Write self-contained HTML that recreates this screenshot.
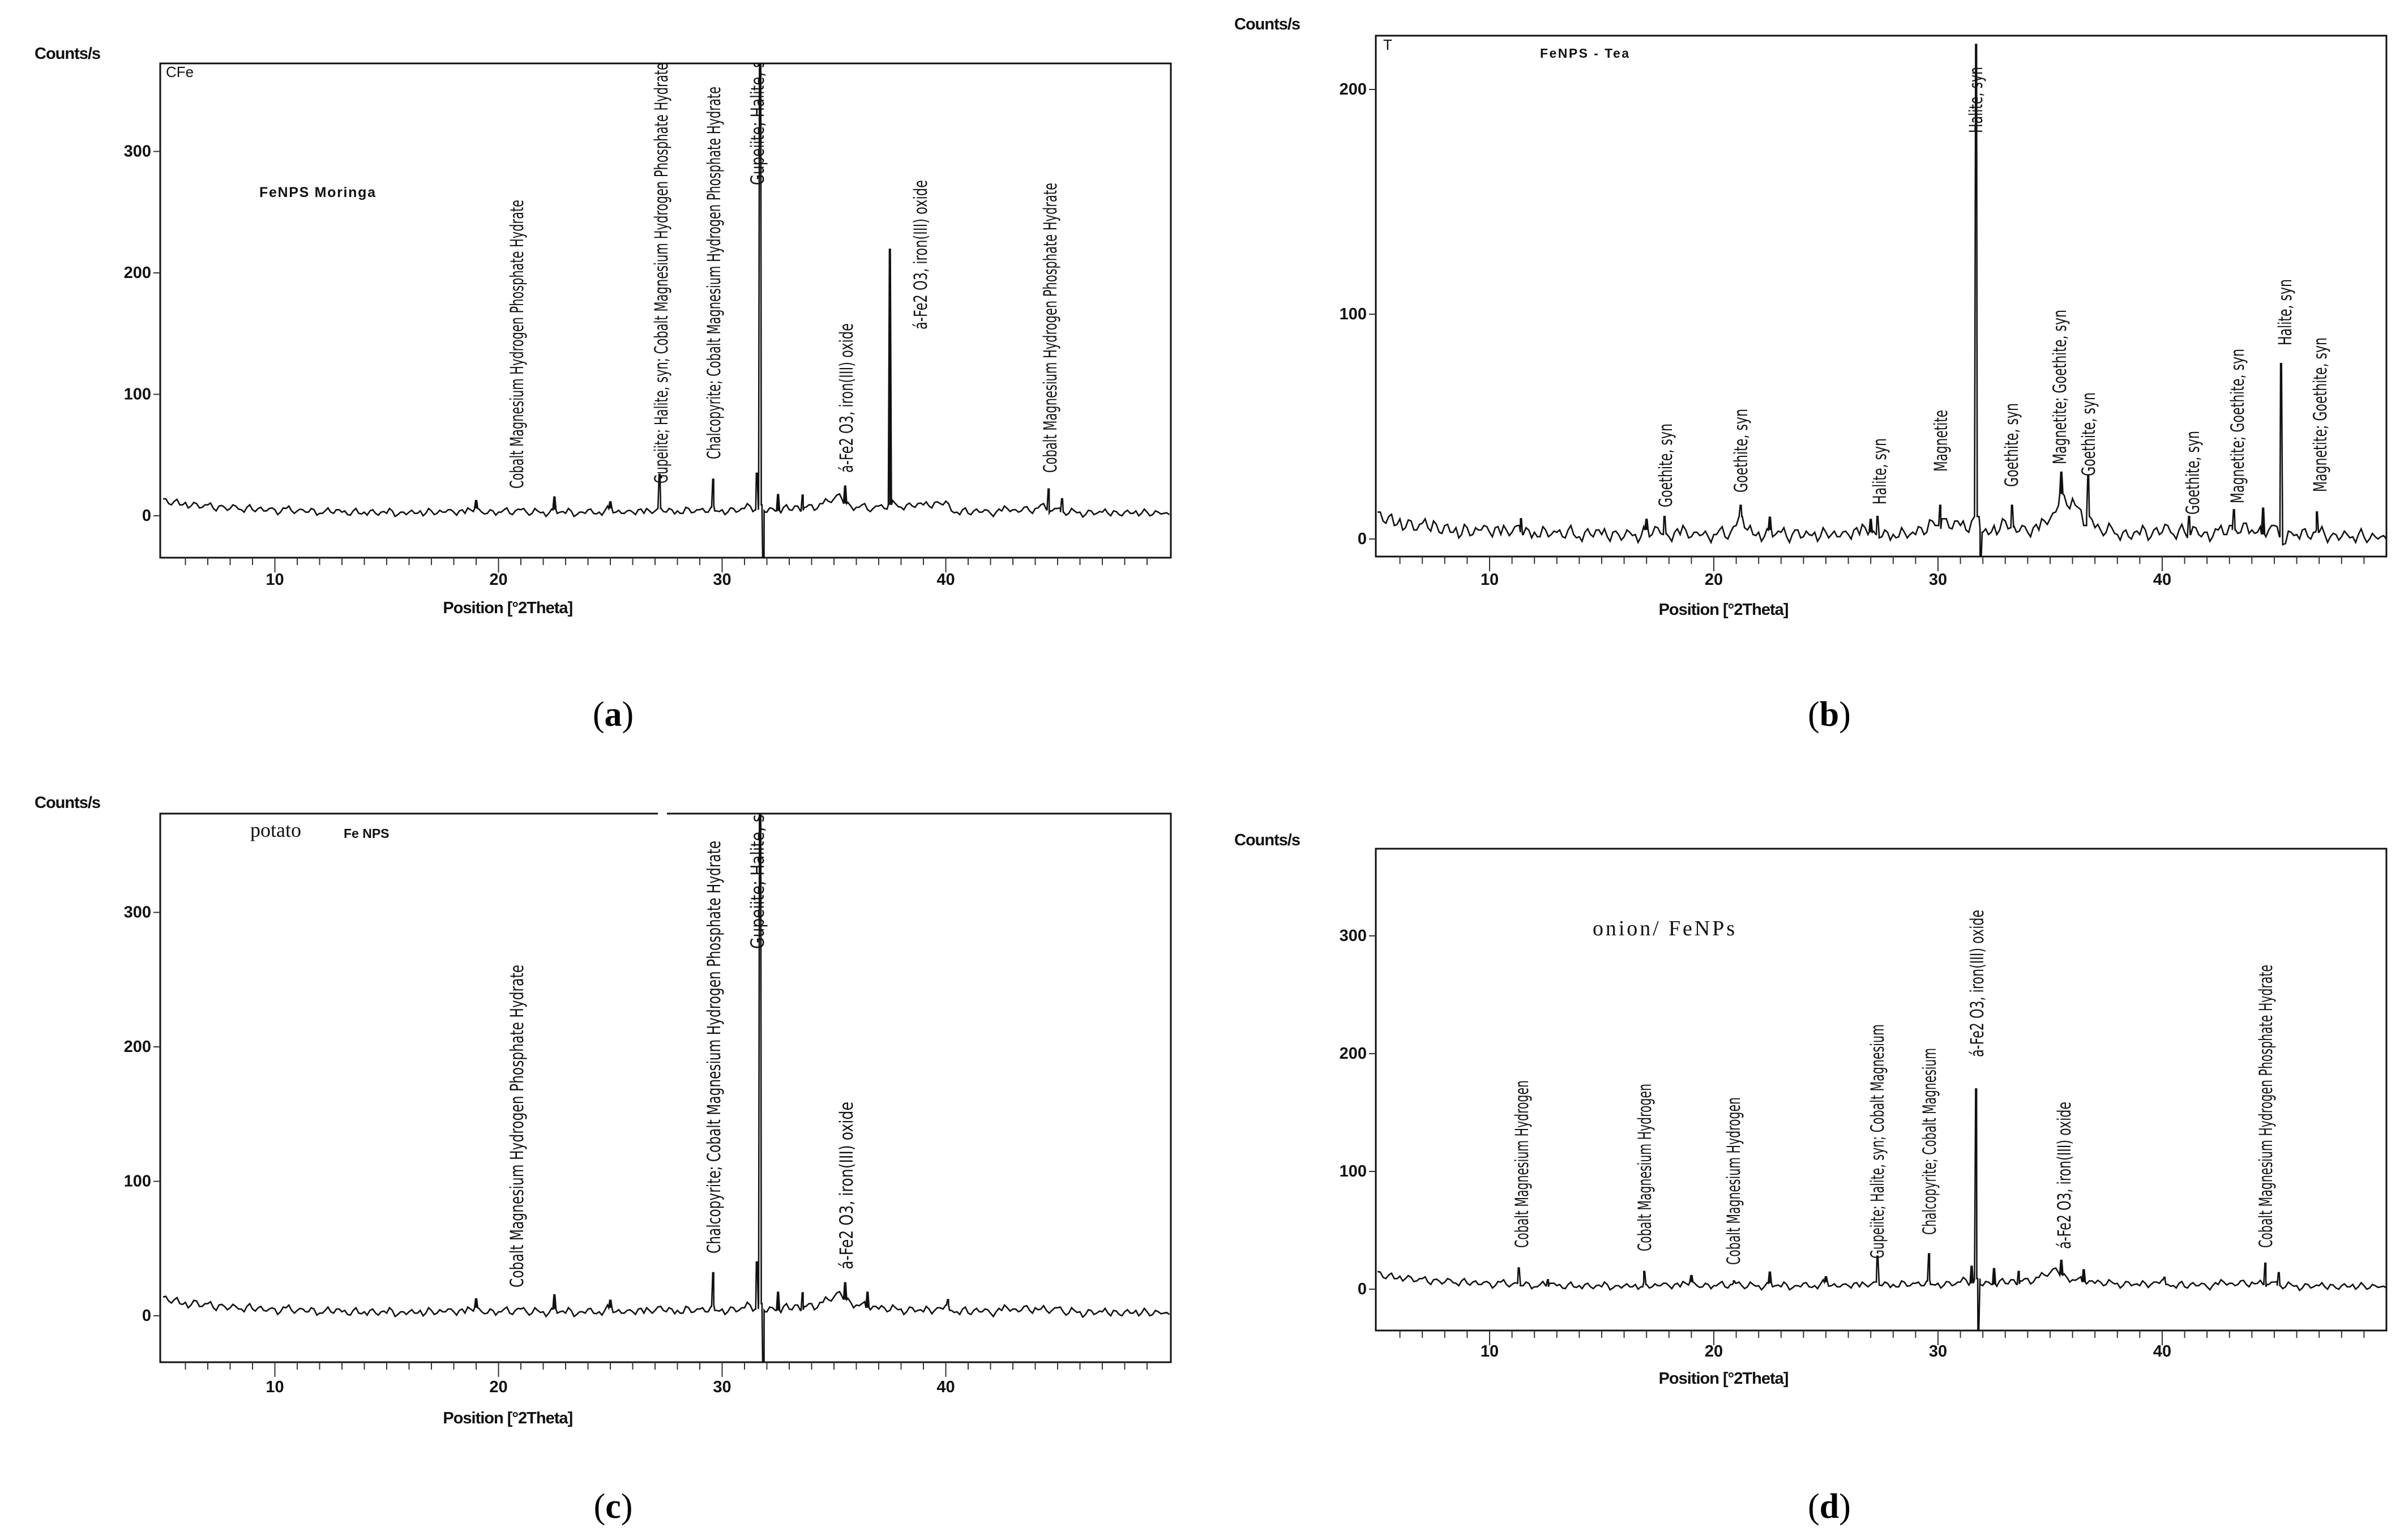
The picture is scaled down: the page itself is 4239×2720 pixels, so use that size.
<!DOCTYPE html>
<html><head><meta charset="utf-8"><style>
html,body{margin:0;padding:0;background:#fff;}
svg{display:block;}
.tk{font-family:"Liberation Sans",Arial,sans-serif;font-weight:bold;font-size:29px;fill:#111;}
.ann{font-family:"DejaVu Sans","Liberation Sans",sans-serif;font-size:32px;fill:#111;}
.cap{font-family:"Liberation Serif",serif;font-size:62px;fill:#000;}
</style></head><body>
<svg id="fig" width="4239" height="2720" viewBox="0 0 4239 2720" xmlns="http://www.w3.org/2000/svg">
<defs>
<clipPath id="clipA"><rect x="283" y="112" width="1785" height="873"/></clipPath>
<clipPath id="clipB"><rect x="2430" y="63" width="1785" height="920"/></clipPath>
<clipPath id="clipC"><rect x="283" y="1437" width="1785" height="969"/></clipPath>
<clipPath id="clipD"><rect x="2430" y="1499" width="1785" height="851"/></clipPath>
</defs>
</svg>
<script>
// ---- shared x ticks
const xMajorTicks = [10, 20, 30, 40];
const xStart = 5, xStep = 0.25;
// jitter offsets (counts) inserted halfway between baseline samples, read as texture
const jitter = [2,-2,3,-1,-3,2,-2,1,3,-3,1,-2,2,-1,-3,3,-2,2,-1,1,-3,2,3,-2,1,-1,2,-3,-1,3,-2,1];
// ---- panel A (Moringa)
const countsA = [14,10,12,9, 11,8,10,7, 9,6,8,7, 6,8,5,7, 5,6,4,6, 5,3,6,4, 4,5,3,5, 2,4,3,5, 3,1,4,2, 3,4,2,3, 2,4,1,3, 3,2,4,2, 4,2,3,5, 3,4,2,5, 6,3,2,4, 3,5,2,4, 5,3,2,4, 3,2,5,3, 2,4,1,3, 5,2,3,4, 6,3,2,4, 3,5,2,4, 4,6,3,5, 4,2,6,3, 5,3,7,4, 5,3,6,4, 6,8,5,9, 3,6,4,7, 5,8,4,7, 9,6,10,12, 14,18,10,8, 7,9,5,6, 8,6,9,10, 7,9,8,10, 9,8,11,10, 12,4,3,5, 2,4,3,5, 2,3,4,6, 5,3,7,4, 6,9,5,4, 6,3,2,4, 3,1,4,2, 3,2,4,1, 3,2,4,2, 3,1,3,2, 1];
const peakPosA = [19.0, 22.5, 25.0, 27.2, 29.6, 31.55, 31.7, 31.85, 32.5, 33.6, 35.5, 37.5, 44.6, 45.2];
const peakValA = [13, 16, 12, 34, 30, 35, 500, -60, 18, 17, 25, 220, 22, 14];
const yTicksA = [0, 100, 200, 300];
// ---- panel B (Tea)
const countsB = [12,8,10,6, 9,5,8,4, 7,5,8,3, 6,3,5,2, 5,2,4,6, 3,5,2,4, 3,6,2,4, 3,1,4,2, 3,1,4,2, 1,3,2,4, 2,1,3,2, 1,3,2,1, 4,2,5,2, 1,3,2,4, 1,3,2,1, 2,4,1,3, 6,10,4,2, 3,1,4,2, 3,1,2,4, 1,2,3,1, 3,2,1,3, 2,4,2,5, 3,2,1,3, 2,1,3,2, 2,5,3,8, 6,9,5,8, 6,4,8,10, 3,2,6,4, 8,5,3,6, 3,5,4,8, 9,12,20,15, 18,14,6,10, 5,4,3,5, 2,3,1,3, 2,4,1,5, 3,6,2,4, 3,2,5,1, 3,1,4,2, 6,4,3,7, 4,3,2,4, 6,1,-2,3, 2,4,1,3, 3,2,1,2, 1,2,1,2, 1,0,1,1, 0];
const peakPosB = [11.4, 17.0, 17.8, 21.2, 22.5, 27.0, 27.3, 30.1, 31.7, 31.9, 33.3, 35.5, 36.7, 41.2, 43.2, 44.5, 45.3, 46.9];
const peakValB = [9, 9, 10, 15, 10, 9, 10, 15, 220, -10, 15, 30, 28, 10, 13, 14, 78, 12];
const yTicksB = [0, 100, 200];
// ---- panel C (Potato)
const countsC = [14,11,12,9, 10,8,11,7, 9,6,8,7, 6,7,5,7, 5,6,4,5, 5,3,6,4, 4,5,3,5, 2,4,3,5, 3,1,4,2, 3,4,2,3, 2,4,1,3, 3,2,4,2, 4,2,3,5, 3,4,2,5, 6,3,2,4, 3,5,2,4, 5,3,2,4, 3,2,5,3, 2,4,1,3, 5,2,3,4, 6,3,2,4, 3,5,2,4, 4,7,3,5, 4,2,6,3, 5,3,7,4, 5,3,6,4, 6,8,5,9, 3,6,4,7, 5,8,4,7, 9,6,10,12, 14,18,12,10, 8,9,6,7, 5,6,4,6, 5,3,6,4, 3,5,4,6, 8,4,3,5, 2,4,3,5, 2,3,4,6, 5,3,7,4, 6,5,4,4, 6,3,2,4, 3,1,4,2, 3,2,4,1, 3,2,4,2, 3,1,3,2, 1];
const peakPosC = [19.0, 22.5, 25.0, 29.6, 31.55, 31.7, 31.85, 32.5, 33.6, 35.5, 36.5, 40.1];
const peakValC = [13, 16, 12, 32, 40, 500, -60, 18, 17, 25, 18, 12];
const yTicksC = [0, 100, 200, 300];
// ---- panel D (Onion)
const countsD = [15,10,12,9, 11,9,10,7, 9,6,8,7, 6,8,5,7, 5,6,4,6, 5,3,6,4, 4,5,3,5, 2,4,3,5, 3,1,4,2, 3,4,2,3, 2,4,1,3, 3,2,4,2, 4,2,3,5, 3,4,2,5, 6,3,2,4, 3,5,2,4, 5,3,2,4, 3,2,5,3, 2,4,1,3, 5,2,3,4, 6,3,2,4, 3,5,2,4, 4,6,3,5, 4,2,6,3, 5,3,7,4, 5,3,6,4, 6,8,5,9, 3,6,4,7, 5,8,4,7, 9,6,10,12, 14,18,12,10, 8,9,6,7, 5,6,4,6, 5,3,6,4, 3,5,4,6, 8,4,3,5, 2,4,3,5, 2,3,4,6, 5,3,7,4, 6,5,4,4, 6,3,2,4, 3,1,4,2, 3,2,4,1, 3,2,4,2, 3,1,3,2, 1];
const peakPosD = [11.3, 12.6, 16.9, 19.0, 20.9, 22.5, 25.0, 27.3, 29.6, 31.5, 31.7, 31.8, 32.5, 33.6, 35.5, 36.5, 40.1, 44.6, 45.2];
const peakValD = [18, 8, 15, 12, 7, 15, 11, 28, 30, 20, 170, -35, 18, 15, 25, 17, 10, 22, 14];
const yTicksD = [0, 100, 200, 300];

const NS = "http://www.w3.org/2000/svg";
const svg = document.getElementById("fig");
function mk(tag, attrs, parent) {
  const e = document.createElementNS(NS, tag);
  for (const k in attrs) e.setAttribute(k, attrs[k]);
  (parent || svg).appendChild(e);
  return e;
}

function drawPanel(p) {
  const g = mk("g", {});
  
  
  const xs = v => p.x0 + (v - 5) * p.pxPerDeg;
  const ys = v => p.zeroY - v * p.pxPerCount;
  const frame = mk("rect", {x: p.L, y: p.T, width: p.R - p.L, height: p.B - p.T, fill: "none", stroke: "#111", "stroke-width": 3}, g);
  
  
  for (let d = 6; d <= 49; d++) {
    const major = xMajorTicks.indexOf(d) >= 0;
    const t = mk("line", {x1: xs(d), x2: xs(d), y1: p.B, y2: p.B + (major ? 26 : 13), stroke: "#333", "stroke-width": 2}, g);
    
    
  }
  xMajorTicks.forEach(d => {
    const t = mk("text", {x: xs(d), y: p.xLabelY, "text-anchor": "middle", "dominant-baseline": "central", class: "tk"}, g);
    t.textContent = d;
    
    
  });
  p.yTicks.forEach(v => {
    const l = mk("line", {x1: p.L - 12, x2: p.L, y1: ys(v), y2: ys(v), stroke: "#333", "stroke-width": 2}, g);
    
    
    const t = mk("text", {x: p.L - 16, y: ys(v), "text-anchor": "end", "dominant-baseline": "central", class: "tk"}, g);
    t.textContent = v;
    
    
  });
  const yt = mk("text", {x: p.cX, y: p.cY, class: "tk", "font-size": 27, "letter-spacing": "-1"}, g);
  yt.textContent = "Counts/s";
  
  
  const xt = mk("text", {x: p.x0 + 22.5 * p.pxPerDeg - 280, y: p.posY, "text-anchor": "middle", "dominant-baseline": "central", class: "tk", "font-size": 27, "letter-spacing": "-1"}, g);
  xt.textContent = "Position [°2Theta]";
  
  
  const cp = mk("text", {x: p.capX, y: p.capY, "text-anchor": "middle", "dominant-baseline": "central", class: "cap"}, g);
  cp.innerHTML = '(<tspan font-weight="bold">' + p.cap + '</tspan>)';
  
  
  const pts = [];
  p.counts.forEach((c, i) => {
    pts.push([xStart + i * xStep, c]);
    if (i < p.counts.length - 1) pts.push([xStart + (i + 0.5) * xStep, (c + p.counts[i + 1]) / 2 + jitter[i % jitter.length]]);
  });
  p.peakPos.forEach((x, i) => {
    const b1 = p.counts[Math.round((x - 0.07 - xStart) / xStep)];
    const b2 = p.counts[Math.round((x + 0.07 - xStart) / xStep)];
    pts.push([x - 0.07, b1]);
    pts.push([x - 0.02, p.peakVal[i]]);
    pts.push([x + 0.02, p.peakVal[i]]);
    pts.push([x + 0.07, b2]);
  });
  pts.sort((a, b) => a[0] - b[0]);
  const dd = pts.map((q, i) => (i ? "L" : "M") + xs(q[0]).toFixed(1) + "," + ys(q[1]).toFixed(1)).join("");
  const path = mk("path", {d: dd, fill: "none", stroke: "#111", "stroke-width": 2.6, "stroke-linejoin": "miter", "clip-path": "url(#" + p.clip + ")"}, g);
  
  
  const ag = mk("g", {"clip-path": "url(#" + p.clip + ")"}, g);
  p.anns.forEach(a => {
    const t = mk("text", {x: 0, y: 0, class: "ann", transform: "translate(" + a[1] + "," + a[2] + ") rotate(-90)", "dominant-baseline": "central", textLength: a[3], lengthAdjust: "spacingAndGlyphs"}, ag);
    t.textContent = a[0];
    
    
  });
  p.extra(g);
}

const CM = "Cobalt Magnesium Hydrogen Phosphate Hydrate";
const FE = "á-Fe2 O3, iron(III) oxide";
drawPanel({name: "panel-a-moringa", L: 283, R: 2068, T: 112, B: 985, x0: 288, pxPerDeg: 39.5, zeroY: 911, pxPerCount: 2.145,
  yTicks: yTicksA, counts: countsA, peakPos: peakPosA, peakVal: peakValA, clip: "clipA", xLabelY: 1024,
  cX: 61, cY: 104, posY: 1074, capX: 1083, capY: 1262, cap: "a",
  anns: [[CM, 913, 863, 510], ["Gupeiite; Halite, syn; " + CM, 1168, 854, 743], ["Chalcopyrite; " + CM, 1261, 811, 658],
         ["Gupeiite; Halite, syn", 1338, 327, 250], [FE, 1495, 835, 264], [FE, 1626, 582, 264], [CM, 1855, 835, 512]],
  extra: g => {
    const t = mk("text", {x: 458, y: 348, "font-family": "Liberation Sans, sans-serif", "font-weight": "bold", "font-size": 25, fill: "#111", textLength: 205}, g);
    t.textContent = "FeNPS Moringa";
    
    
    const c = mk("text", {x: 293, y: 136, "font-family": "Liberation Sans, sans-serif", "font-size": 26, fill: "#111"}, g);
    c.textContent = "CFe";
    
    
  }});
drawPanel({name: "panel-b-tea", L: 2430, R: 4215, T: 63, B: 983, x0: 2433, pxPerDeg: 39.6, zeroY: 952, pxPerCount: 3.97,
  yTicks: yTicksB, counts: countsB, peakPos: peakPosB, peakVal: peakValB, clip: "clipB", xLabelY: 1024,
  cX: 2180, cY: 52, posY: 1077, capX: 3231, capY: 1262, cap: "b",
  anns: [["Goethite, syn", 2942, 896, 148], ["Goethite, syn", 3075, 870, 148], ["Halite, syn", 3320, 891, 117], ["Magnetite", 3428, 833, 109],
         ["Halite, syn", 3490, 235, 117], ["Goethite, syn", 3553, 860, 148], ["Magnetite; Goethite, syn", 3638, 820, 273], ["Goethite, syn", 3689, 841, 148],
         ["Goethite, syn", 3873, 909, 148], ["Magnetite; Goethite, syn", 3952, 889, 273], ["Halite, syn", 4036, 610, 117], ["Magnetite; Goethite, syn", 4098, 869, 273]],
  extra: g => {
    const t = mk("text", {x: 2720, y: 102, "font-family": "Liberation Sans, sans-serif", "font-weight": "bold", "font-size": 23, fill: "#111", textLength: 157}, g);
    t.textContent = "FeNPS - Tea";
    
    
    const c = mk("text", {x: 2443, y: 88, "font-family": "Liberation Sans, sans-serif", "font-size": 26, fill: "#111"}, g);
    c.textContent = "T";
    
    
  }});
drawPanel({name: "panel-c-potato", L: 283, R: 2068, T: 1437, B: 2406, x0: 288, pxPerDeg: 39.5, zeroY: 2324, pxPerCount: 2.375,
  yTicks: yTicksC, counts: countsC, peakPos: peakPosC, peakVal: peakValC, clip: "clipC", xLabelY: 2450,
  cX: 61, cY: 1427, posY: 2505, capX: 1083, capY: 2661, cap: "c",
  anns: [[CM, 913, 2274, 570], ["Chalcopyrite; " + CM, 1261, 2214, 729], ["Gupeiite; Halite, syn", 1338, 1676, 270], [FE, 1495, 2242, 296]],
  extra: g => {
    const gap = mk("rect", {x: 1162, y: 1430, width: 16, height: 14, fill: "#fff"}, g);
    
    
    const t = mk("text", {x: 442, y: 1478, "font-family": "Liberation Serif, serif", "font-size": 36, fill: "#111"}, g);
    t.textContent = "potato";
    
    
    const t2 = mk("text", {x: 607, y: 1480, "font-family": "Liberation Sans, sans-serif", "font-weight": "bold", "font-size": 23, fill: "#111"}, g);
    t2.textContent = "Fe NPS";
    
    
  }});
drawPanel({name: "panel-d-onion", L: 2430, R: 4215, T: 1499, B: 2350, x0: 2433, pxPerDeg: 39.6, zeroY: 2277, pxPerCount: 2.08,
  yTicks: yTicksD, counts: countsD, peakPos: peakPosD, peakVal: peakValD, clip: "clipD", xLabelY: 2387,
  cX: 2180, cY: 1493, posY: 2435, capX: 3231, capY: 2661, cap: "d",
  anns: [["Cobalt Magnesium Hydrogen", 2688, 2204, 296], ["Cobalt Magnesium Hydrogen", 2905, 2210, 296], ["Cobalt Magnesium Hydrogen", 3062, 2234, 296],
         ["Gupeiite; Halite, syn; Cobalt Magnesium", 3316, 2223, 414], ["Chalcopyrite; Cobalt Magnesium", 3408, 2181, 330],
         [FE, 3492, 1867, 260], [FE, 3646, 2206, 260], [CM, 4002, 2204, 500]],
  extra: g => {
    const t = mk("text", {x: 2813, y: 1652, "font-family": "Liberation Serif, serif", "font-size": 38, fill: "#111", textLength: 251}, g);
    t.textContent = "onion/ FeNPs";
    
    
  }});
</script>
</body></html>
